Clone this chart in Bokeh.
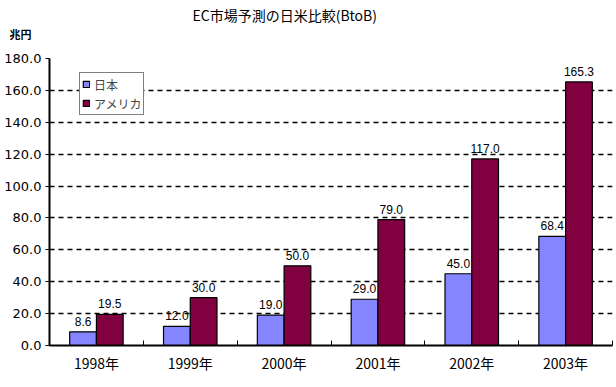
from bokeh.plotting import figure
from bokeh.models import Range1d, FixedTicker, PrintfTickFormatter, Title, Legend, LegendItem, ColumnDataSource
from bokeh.core.properties import value
from bokeh.embed import file_html
from bokeh.resources import INLINE

years = ["1998年", "1999年", "2000年", "2001年", "2002年", "2003年"]
japan = [8.6, 12.0, 19.0, 29.0, 45.0, 68.4]
usa = [19.5, 30.0, 50.0, 79.0, 117.0, 165.3]
series_names = ["日本", "アメリカ"]
y_ticks = [0, 20, 40, 60, 80, 100, 120, 140, 160, 180]

FONT = "Liberation Sans, Noto Sans CJK JP, sans-serif"
NFONT = "DejaVu Sans, sans-serif"
JFONT = "Noto Sans CJK JP, sans-serif"

centers = [i + 0.5 for i in range(len(years))]
bw = 0.285
xj = [c - bw / 2 for c in centers]
xu = [c + bw / 2 for c in centers]

p = figure(width=616, height=387, output_backend="svg", toolbar_location=None,
           x_range=Range1d(0, len(years)), y_range=Range1d(0, 180),
           min_border_left=49, min_border_right=4, min_border_top=58, min_border_bottom=42)
p.outline_line_color = None
p.background_fill_color = "white"
p.title.visible = False

src_j = ColumnDataSource(dict(x=xj, top=japan, lab=["%.1f" % v for v in japan]))
src_u = ColumnDataSource(dict(x=xu, top=usa, lab=["%.1f" % v for v in usa]))

rj = p.vbar(x="x", top="top", bottom=0, width=bw, source=src_j,
            fill_color="#8585FF", line_color="black", line_width=1.2)
ru = p.vbar(x="x", top="top", bottom=0, width=bw, source=src_u,
            fill_color="#800040", line_color="black", line_width=1.2)

for src in (src_j, src_u):
    p.text(x="x", y="top", text="lab", source=src, text_align="center", text_baseline="bottom",
           y_offset=-6, text_font=value(FONT), text_font_size="12px", text_color="black")

# axes
p.yaxis.ticker = FixedTicker(ticks=y_ticks)
p.yaxis.formatter = PrintfTickFormatter(format="%.1f")
p.yaxis.major_label_text_font = NFONT
p.yaxis.major_label_text_font_size = "13px"
p.yaxis.major_label_text_color = "black"
p.yaxis.major_tick_out = 4
p.yaxis.major_tick_in = 0
p.yaxis.minor_tick_line_color = None
p.yaxis.axis_line_width = 2
p.yaxis.axis_line_color = "black"
p.yaxis.major_tick_line_color = "black"
p.yaxis.major_label_standoff = 4

p.xaxis.ticker = FixedTicker(ticks=centers, minor_ticks=list(range(len(years) + 1)))
p.xaxis.major_label_overrides = {c: y for c, y in zip(centers, years)}
p.xaxis.major_tick_line_color = None
p.xaxis.minor_tick_in = 5
p.xaxis.minor_tick_out = 0
p.xaxis.minor_tick_line_color = "black"
p.xaxis.axis_line_width = 2
p.xaxis.axis_line_color = "black"
p.xaxis.major_label_text_font = JFONT
p.xaxis.major_label_text_font_size = "14px"
p.xaxis.major_label_text_color = "black"
p.xaxis.major_label_standoff = 1

p.xgrid.grid_line_color = None
p.ygrid.grid_line_color = "black"
p.ygrid.grid_line_dash = "5 4"
p.ygrid.grid_line_width = 1.5

# unit (closest to frame) and title (outermost)
p.add_layout(Title(text="兆円\n", align="left", offset=-40, standoff=2, text_line_height=0.9,
                   vertical_align="top",
                   text_font=JFONT, text_font_size="11px", text_font_style="bold",
                   text_color="black"), "above")
p.add_layout(Title(text="EC市場予測の日米比較(BtoB)", align="left", offset=143, standoff=0,
                   text_font=JFONT, text_font_size="14px", text_font_style="normal",
                   text_color="black"), "above")

legend = Legend(items=[LegendItem(label=series_names[0], renderers=[rj]),
                       LegendItem(label=series_names[1], renderers=[ru])],
                location=(30, 230))
legend.label_text_font = JFONT
legend.label_text_font_size = "12px"
legend.glyph_width = 8
legend.glyph_height = 8
legend.label_height = 18
legend.label_standoff = 4
legend.padding = 2
legend.spacing = 1
legend.margin = 0
legend.border_line_color = "black"
legend.border_line_width = 1
legend.background_fill_color = "white"
legend.background_fill_alpha = 1
p.add_layout(legend)

open("out.html", "w").write(file_html(p, INLINE))
